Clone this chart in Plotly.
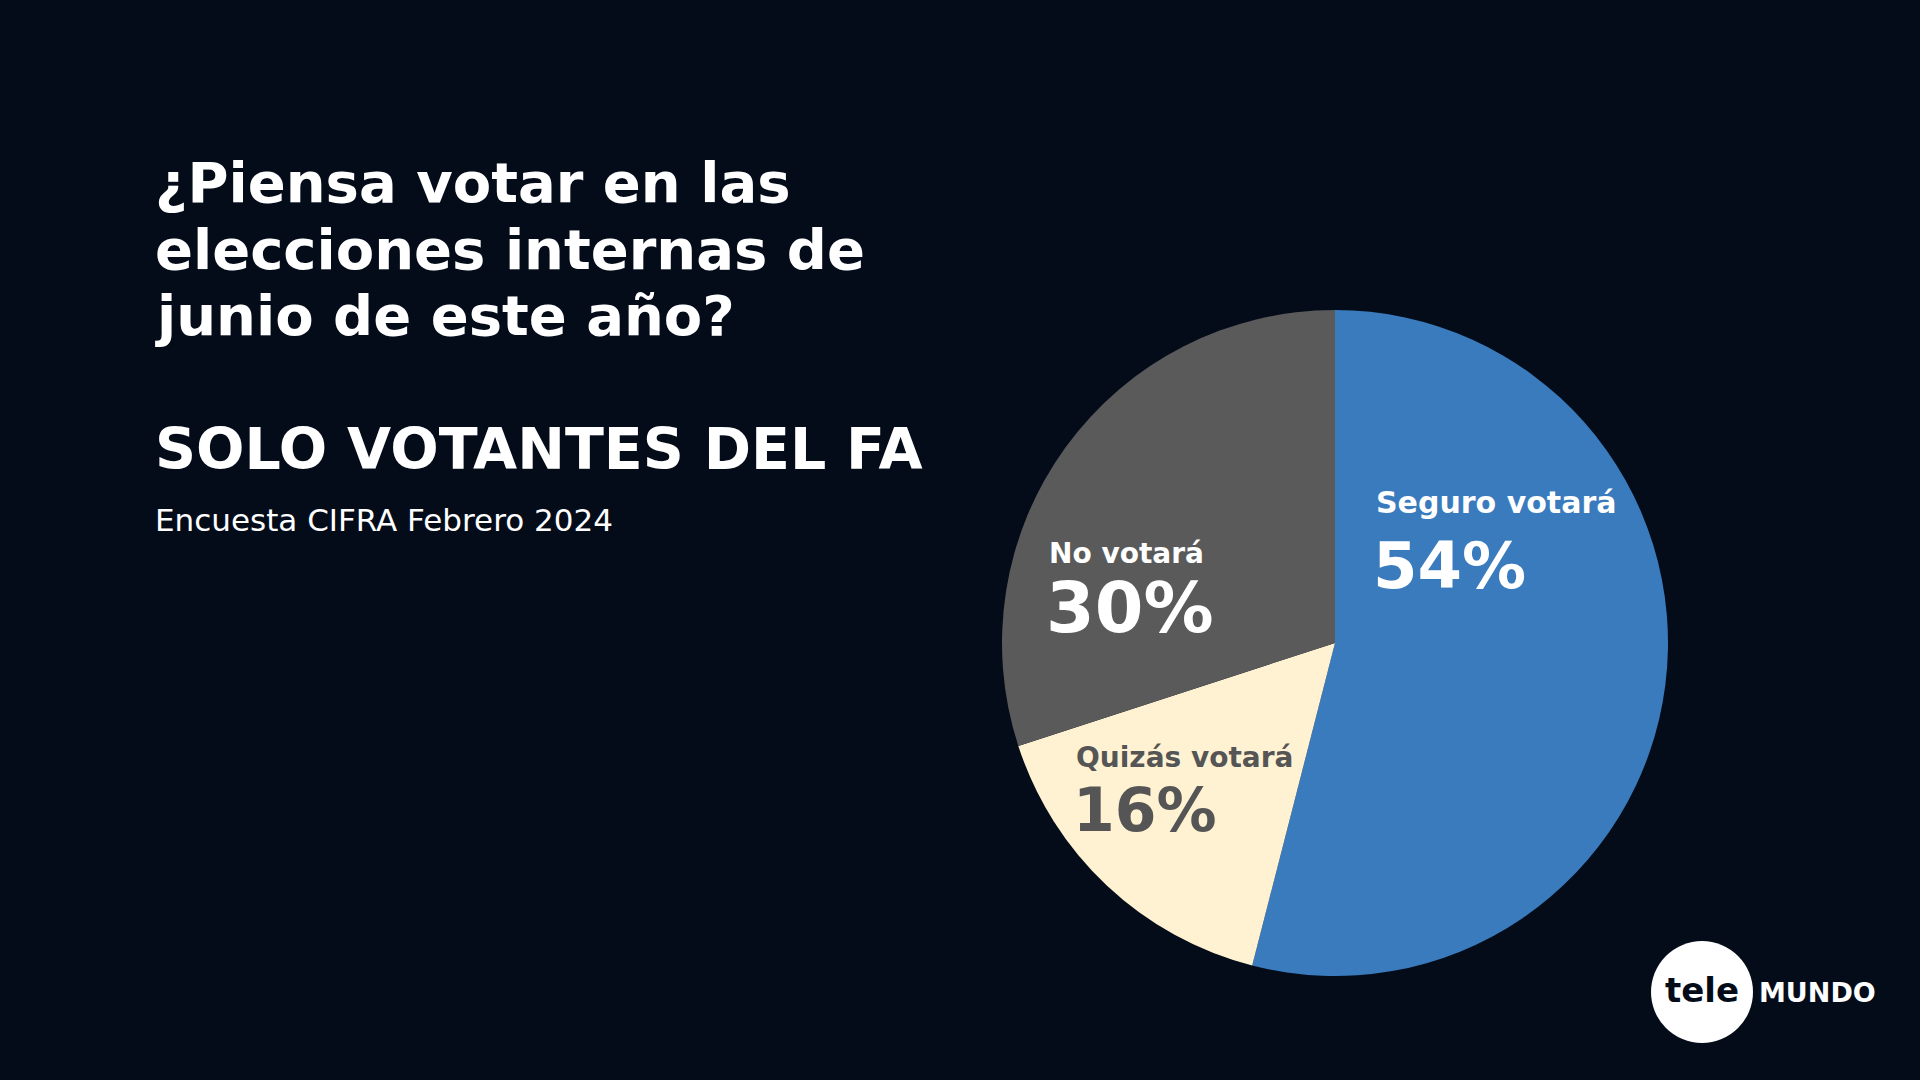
import plotly.graph_objects as go

# datos de la encuesta
labels = ['Seguro votará', 'Quizás votará', 'No votará']
values = [54, 16, 30]
colors = ['#3a7bbd', '#fff2d3', '#5a5a5a']
text_colors = ['#ffffff', '#555555', '#ffffff']

title_lines = ['¿Piensa votar en las', 'elecciones internas de', 'junio de este año?']
subtitle = 'SOLO VOTANTES DEL FA'
source = 'Encuesta CIFRA Febrero 2024'

W = 1920
H = 1080
FONT = 'DejaVu Sans'
BG = '#040c1a'

# posiciones de las etiquetas dentro del pie (pixeles): x, y etiqueta, y valor, tamaños
label_pos = [(1374, 502, 566, 30, 64),
             (1074, 757, 810, 28, 60),
             (1047, 553, 608, 28, 70)]


def px(x, y):
    return x / W, 1 - y / H


def main():
    fig = go.Figure()

    fig.add_trace(go.Pie(labels=labels, values=values,
                         sort=False, direction='clockwise', rotation=0,
                         marker=dict(colors=colors, line=dict(width=0)),
                         textinfo='none', hoverinfo='label+percent',
                         domain=dict(x=[1002 / W, 1668 / W], y=[1 - 976 / H, 1 - 310 / H]),
                         showlegend=False))

    annotations = []
    for i, line in enumerate(title_lines):
        x, y = px(153, 182 + i * 67)
        annotations.append(dict(x=x, y=y, text=line, showarrow=False,
                                xanchor='left', yanchor='middle',
                                font=dict(family=FONT, size=56, color='white', weight=700)))

    x, y = px(153, 449)
    annotations.append(dict(x=x, y=y, text=subtitle, showarrow=False,
                            xanchor='left', yanchor='middle',
                            font=dict(family=FONT, size=57, color='white', weight=700)))
    x, y = px(153, 520)
    annotations.append(dict(x=x, y=y, text=source, showarrow=False,
                            xanchor='left', yanchor='middle',
                            font=dict(family=FONT, size=31, color='white')))

    for lab, val, col, (lx, ly1, ly2, s1, s2) in zip(labels, values, text_colors, label_pos):
        x, y = px(lx, ly1)
        annotations.append(dict(x=x, y=y, text=lab, showarrow=False,
                                xanchor='left', yanchor='middle',
                                font=dict(family=FONT, size=s1, color=col, weight=700)))
        x, y = px(lx - 3, ly2)
        annotations.append(dict(x=x, y=y, text=str(val) + '%', showarrow=False,
                                xanchor='left', yanchor='middle',
                                font=dict(family=FONT, size=s2, color=col, weight=700)))

    # logo
    cx, cy, r = 1702, 992, 51
    shapes = [dict(type='circle', xref='paper', yref='paper',
                   x0=(cx - r) / W, x1=(cx + r) / W,
                   y0=1 - (cy + r) / H, y1=1 - (cy - r) / H,
                   fillcolor='white', line=dict(width=0))]
    x, y = px(cx, cy - 2)
    annotations.append(dict(x=x, y=y, text='tele', showarrow=False,
                            xanchor='center', yanchor='middle',
                            font=dict(family=FONT, size=34, color=BG, weight=700)))
    x, y = px(1757, cy)
    annotations.append(dict(x=x, y=y, text='MUNDO', showarrow=False,
                            xanchor='left', yanchor='middle',
                            font=dict(family=FONT, size=27, color='white', weight=700)))

    fig.update_layout(width=W, height=H,
                      margin=dict(l=0, r=0, t=0, b=0),
                      paper_bgcolor=BG, plot_bgcolor=BG,
                      annotations=annotations, shapes=shapes)

    fig.write_html('out.html', config={'displayModeBar': False},
                   post_script="document.body.style.margin='0';"
                               "document.body.style.overflow='hidden';"
                               "document.body.style.background='" + BG + "';")


if __name__ == '__main__':
    main()
